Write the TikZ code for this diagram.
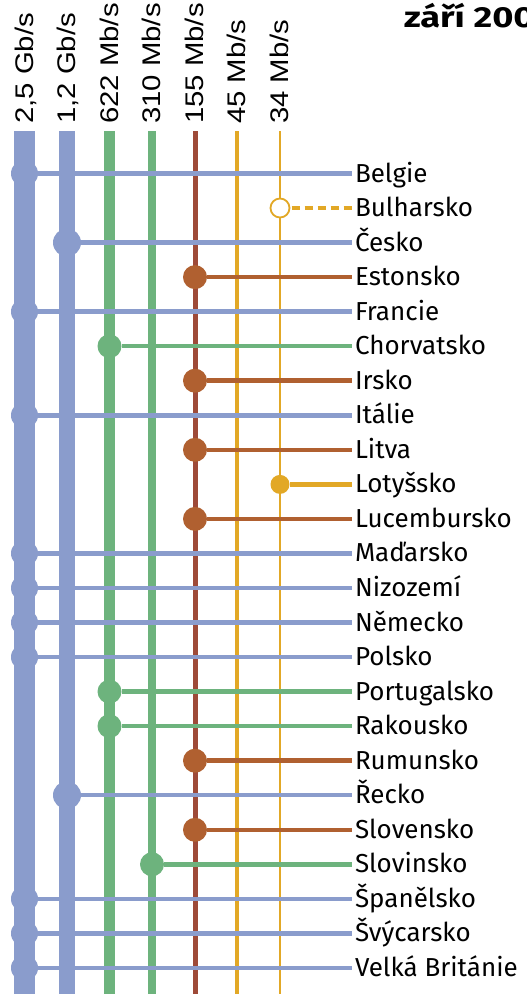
\documentclass[tikz,border=0pt]{standalone}
\usepackage{fontspec}
\setmainfont{Fira Sans}
\newfontfamily\ratefont[FakeStretch=1.15]{Liberation Sans}
\newfontfamily\titlefont[FakeStretch=1.25]{Fira Sans}
\definecolor{gbblue}{RGB}{138,156,204}
\definecolor{mbgreen}{RGB}{109,179,125}
\definecolor{mbbrown}{RGB}{158,74,56}
\definecolor{mbrust}{RGB}{176,96,48}
\definecolor{mbyellow}{RGB}{226,168,38}
\begin{document}
\begin{tikzpicture}[x=1pt, y=-1pt,
        ratelabel/.style={rotate=90, anchor=base west, inner sep=0,
            font=\ratefont\fontsize{25.5pt}{28pt}\selectfont},
        country/.style={anchor=west, inner xsep=3pt, inner ysep=0, outer sep=0,
            text height=20pt, text depth=3pt, font=\fontsize{26pt}{30pt}\selectfont},
        hub/.style={circle, inner sep=0, outer sep=0, fill=#1},
        hub25/.style={hub=gbblue, minimum size=27pt},
        hub12/.style={hub=gbblue, minimum size=28pt},
        hubmid/.style={hub=#1, minimum size=24pt},
        hub34/.style={hub=mbyellow, minimum size=19pt},
        hubopen/.style={circle, inner sep=0, outer sep=0, fill=white, draw=mbyellow,
            line width=1.8pt, minimum size=19pt},
        link/.style={line width=4.5pt, draw=#1}
    ]
        \useasboundingbox[fill=white] (0,0) rectangle (527,994);
        \coordinate (bottom) at (0,994);

        % rate lines
        \coordinate (r25) at (24.5,131);
        \coordinate (r12) at (67,131);
        \coordinate (r622) at (109.5,131);
        \coordinate (r310) at (152,131);
        \coordinate (r155) at (195,131);
        \coordinate (r45) at (237,131);
        \coordinate (r34) at (280,131);
        \draw[gbblue, line width=21pt] (r25) -- (r25 |- bottom);
        \draw[gbblue, line width=15.7pt] (r12) -- (r12 |- bottom);
        \draw[mbgreen, line width=10.7pt] (r622) -- (r622 |- bottom);
        \draw[mbgreen, line width=8pt] (r310) -- (r310 |- bottom);
        \draw[mbbrown, line width=5pt] (r155) -- (r155 |- bottom);
        \draw[mbyellow, line width=3.7pt] (r45) -- (r45 |- bottom);
        \draw[mbyellow, line width=2.7pt] (r34) -- (r34 |- bottom);

        \node[ratelabel] (l25) at (33,124) {2,5 Gb/s};
        \node[ratelabel] (l12) at (75.5,124) {1,2 Gb/s};
        \node[ratelabel] (l622) at (118,124) {622 Mb/s};
        \node[ratelabel] (l310) at (160.5,124) {310 Mb/s};
        \node[ratelabel] (l155) at (203.5,124) {155 Mb/s};
        \node[ratelabel] (l45) at (245.5,124) {45 Mb/s};
        \node[ratelabel] (l34) at (288.5,124) {34 Mb/s};

        \node[anchor=base west, inner sep=0,
            font=\titlefont\bfseries\fontsize{29pt}{33pt}\selectfont] (title) at (404,27) {září 200};

        % countries
        \node[country] (belgie) at (352,173.5) {Belgie};
        \node[hub25] (hbelgie) at (r25 |- belgie) {};
        \draw[link=gbblue] (hbelgie) -- (belgie);

        \node[country] (bulharsko) at (352,208) {Bulharsko};
        \node[hubopen] (hbulharsko) at (r34 |- bulharsko) {};
        \draw[link=mbyellow, line width=4pt, dash pattern=on 8pt off 5pt, dash phase=-2pt] (hbulharsko) -- (bulharsko);

        \node[country] (cesko) at (352,242.6) {Česko};
        \node[hub12] (hcesko) at (r12 |- cesko) {};
        \draw[link=gbblue] (hcesko) -- (cesko);

        \node[country] (estonsko) at (352,277.1) {Estonsko};
        \node[hubmid=mbrust] (hestonsko) at (r155 |- estonsko) {};
        \draw[link=mbrust] (hestonsko) -- (estonsko);

        \node[country] (francie) at (352,311.7) {Francie};
        \node[hub25] (hfrancie) at (r25 |- francie) {};
        \draw[link=gbblue] (hfrancie) -- (francie);

        \node[country] (chorvatsko) at (352,346.2) {Chorvatsko};
        \node[hubmid=mbgreen] (hchorvatsko) at (r622 |- chorvatsko) {};
        \draw[link=mbgreen] (hchorvatsko) -- (chorvatsko);

        \node[country] (irsko) at (352,380.7) {Irsko};
        \node[hubmid=mbrust] (hirsko) at (r155 |- irsko) {};
        \draw[link=mbrust] (hirsko) -- (irsko);

        \node[country] (italie) at (352,415.3) {Itálie};
        \node[hub25] (hitalie) at (r25 |- italie) {};
        \draw[link=gbblue] (hitalie) -- (italie);

        \node[country] (litva) at (352,449.8) {Litva};
        \node[hubmid=mbrust] (hlitva) at (r155 |- litva) {};
        \draw[link=mbrust] (hlitva) -- (litva);

        \node[country] (lotyssko) at (352,484.4) {Lotyšsko};
        \node[hub34] (hlotyssko) at (r34 |- lotyssko) {};
        \draw[link=mbyellow] (hlotyssko) -- (lotyssko);

        \node[country] (lucembursko) at (352,518.9) {Lucembursko};
        \node[hubmid=mbrust] (hlucembursko) at (r155 |- lucembursko) {};
        \draw[link=mbrust] (hlucembursko) -- (lucembursko);

        \node[country] (madarsko) at (352,553.4) {Maďarsko};
        \node[hub25] (hmadarsko) at (r25 |- madarsko) {};
        \draw[link=gbblue] (hmadarsko) -- (madarsko);

        \node[country] (nizozemi) at (352,588) {Nizozemí};
        \node[hub25] (hnizozemi) at (r25 |- nizozemi) {};
        \draw[link=gbblue] (hnizozemi) -- (nizozemi);

        \node[country] (nemecko) at (352,622.5) {Německo};
        \node[hub25] (hnemecko) at (r25 |- nemecko) {};
        \draw[link=gbblue] (hnemecko) -- (nemecko);

        \node[country] (polsko) at (352,657.1) {Polsko};
        \node[hub25] (hpolsko) at (r25 |- polsko) {};
        \draw[link=gbblue] (hpolsko) -- (polsko);

        \node[country] (portugalsko) at (352,691.6) {Portugalsko};
        \node[hubmid=mbgreen] (hportugalsko) at (r622 |- portugalsko) {};
        \draw[link=mbgreen] (hportugalsko) -- (portugalsko);

        \node[country] (rakousko) at (352,726.1) {Rakousko};
        \node[hubmid=mbgreen] (hrakousko) at (r622 |- rakousko) {};
        \draw[link=mbgreen] (hrakousko) -- (rakousko);

        \node[country] (rumunsko) at (352,760.7) {Rumunsko};
        \node[hubmid=mbrust] (hrumunsko) at (r155 |- rumunsko) {};
        \draw[link=mbrust] (hrumunsko) -- (rumunsko);

        \node[country] (recko) at (352,795.2) {Řecko};
        \node[hub12] (hrecko) at (r12 |- recko) {};
        \draw[link=gbblue] (hrecko) -- (recko);

        \node[country] (slovensko) at (352,829.8) {Slovensko};
        \node[hubmid=mbrust] (hslovensko) at (r155 |- slovensko) {};
        \draw[link=mbrust] (hslovensko) -- (slovensko);

        \node[country] (slovinsko) at (352,864.3) {Slovinsko};
        \node[hubmid=mbgreen] (hslovinsko) at (r310 |- slovinsko) {};
        \draw[link=mbgreen] (hslovinsko) -- (slovinsko);

        \node[country] (spanelsko) at (352,898.8) {Španělsko};
        \node[hub25] (hspanelsko) at (r25 |- spanelsko) {};
        \draw[link=gbblue] (hspanelsko) -- (spanelsko);

        \node[country] (svycarsko) at (352,933.4) {Švýcarsko};
        \node[hub25] (hsvycarsko) at (r25 |- svycarsko) {};
        \draw[link=gbblue] (hsvycarsko) -- (svycarsko);

        \node[country] (britanie) at (352,967.9) {Velká Británie};
        \node[hub25] (hbritanie) at (r25 |- britanie) {};
        \draw[link=gbblue] (hbritanie) -- (britanie);
    \end{tikzpicture}
\end{document}
